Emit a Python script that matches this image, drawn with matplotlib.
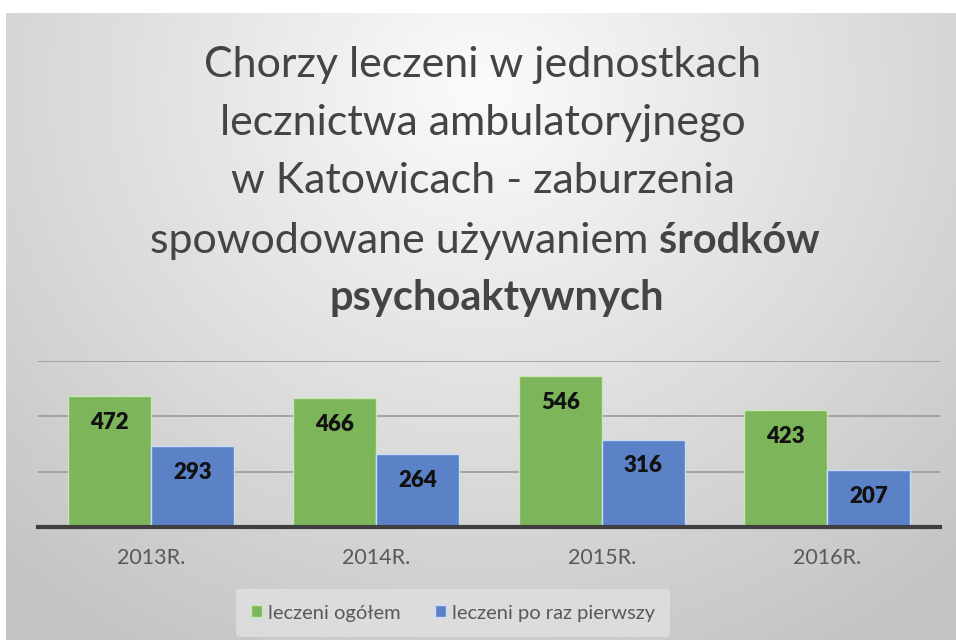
import numpy as np
import matplotlib
matplotlib.use("Agg")
import matplotlib.pyplot as plt

categories = ["2013R.", "2014R.", "2015R.", "2016R."]
series_names = ["leczeni ogółem", "leczeni po raz pierwszy"]
total = [472, 466, 546, 423]
first_time = [293, 264, 316, 207]
yticks = [0, 200, 400, 600]

title_lines = ["Chorzy leczeni w jednostkach",
               "lecznictwa ambulatoryjnego",
               "w Katowicach - zaburzenia"]
title_line4_normal = "spowodowane używaniem "
title_line4_bold = "środków"
title_line5_bold = "psychoaktywnych"

FONT = ["Lato", "DejaVu Sans"]
plt.rcParams['font.family'] = FONT

W, H = 956, 641
fig = plt.figure(figsize=(W / 100, H / 100), dpi=100, facecolor="white")

# background panel with radial gradient
px0, px1, py0, py1 = 6, 956, 13, 640
bg = fig.add_axes([px0 / W, 1 - py1 / H, (px1 - px0) / W, (py1 - py0) / H])
bg.set_axis_off()
gx = np.linspace(0, 1, 400)
gy = np.linspace(0, 1, 300)
X, Y = np.meshgrid(gx, gy)
cx, cy = 0.5, 0.12
d = np.sqrt(((X - cx) / 0.75) ** 2 + ((Y - cy) / 1.05) ** 2)
val = np.clip(0.985 - 0.22 * d, 0.77, 1.0)
img = np.dstack([val, val, val])
bg.imshow(img, extent=[0, 1, 1, 0], aspect="auto", interpolation="bilinear")
bg.set_xlim(0, 1)
bg.set_ylim(1, 0)

# plot area
ax_left, ax_right, ax_top, ax_bottom = 38, 940, 361, 527
ax = fig.add_axes([ax_left / W, 1 - ax_bottom / H, (ax_right - ax_left) / W,
                   (ax_bottom - ax_top) / H])
ax.patch.set_alpha(0)
x = np.arange(len(categories))
bw = 0.368
green = "#7db55b"
blue = "#5b81c7"
ax.bar(x - bw / 2, total, bw, color=green, edgecolor="#c9e8b4", linewidth=1, zorder=3,
       label=series_names[0])
ax.bar(x + bw / 2, first_time, bw, color=blue, edgecolor="#c8dcf5", linewidth=1, zorder=3,
       label=series_names[1])
for xs, vals in ((x - bw / 2, total), (x + bw / 2, first_time)):
    for xi, v in zip(xs, vals):
        ax.annotate(str(v), (xi, v), xytext=(0, -19), textcoords="offset points",
                    ha="center", va="center", fontsize=16, fontweight="heavy",
                    color="#111111", zorder=4)

ax.set_xlim(-0.5, len(categories) - 0.5)
ax.set_ylim(0, 600)
ax.set_yticks(yticks)
ax.set_yticklabels([])
ax.tick_params(axis="y", length=0)
ax.yaxis.grid(True, color="#9e9e9e", linewidth=1.3, zorder=0)
ax.set_axisbelow(True)
for s in ["left", "right", "top"]:
    ax.spines[s].set_visible(False)
ax.spines["bottom"].set_color("#3f3f3f")
ax.spines["bottom"].set_linewidth(3)
ax.spines["bottom"].set_zorder(5)
ax.set_xticks(x)
ax.set_xticklabels(categories, fontsize=15.5, color="#595959")
ax.tick_params(axis="x", length=0, pad=15)

leg = fig.legend(loc="center", bbox_to_anchor=(453 / W, 1 - 613 / H), ncol=2,
                 frameon=True, fontsize=14.5, handlelength=0.55, handleheight=0.55,
                 handletextpad=0.3, columnspacing=1.7, borderpad=0.75,
                 borderaxespad=0)
frame = leg.get_frame()
frame.set_facecolor("#dedede")
frame.set_edgecolor("none")
frame.set_alpha(0.9)
for t in leg.get_texts():
    t.set_color("#595959")

# title
tcol = "#444444"
tsize = 31
bsize = 30
cxp = 483 / W
baselines = [77, 135, 193, 253, 310]
for line, b in zip(title_lines, baselines[:3]):
    fig.text(cxp, 1 - b / H, line, ha="center", va="baseline", fontsize=tsize,
             color=tcol)
r = fig.canvas.get_renderer()
t1 = fig.text(0, 1 - baselines[3] / H, title_line4_normal, ha="left", va="baseline",
              fontsize=tsize, color=tcol)
t2 = fig.text(0, 1 - baselines[3] / H, title_line4_bold, ha="left", va="baseline",
              fontsize=bsize, color=tcol, fontweight="bold")
w1 = t1.get_window_extent(r).width
w2 = t2.get_window_extent(r).width
start = 485 - (w1 + w2) / 2
t1.set_x(start / W)
t2.set_x((start + w1) / W)
fig.text(497 / W, 1 - baselines[4] / H, title_line5_bold, ha="center", va="baseline",
         fontsize=bsize, color=tcol, fontweight="bold")

fig.savefig("out.png", dpi=100, facecolor="white")
